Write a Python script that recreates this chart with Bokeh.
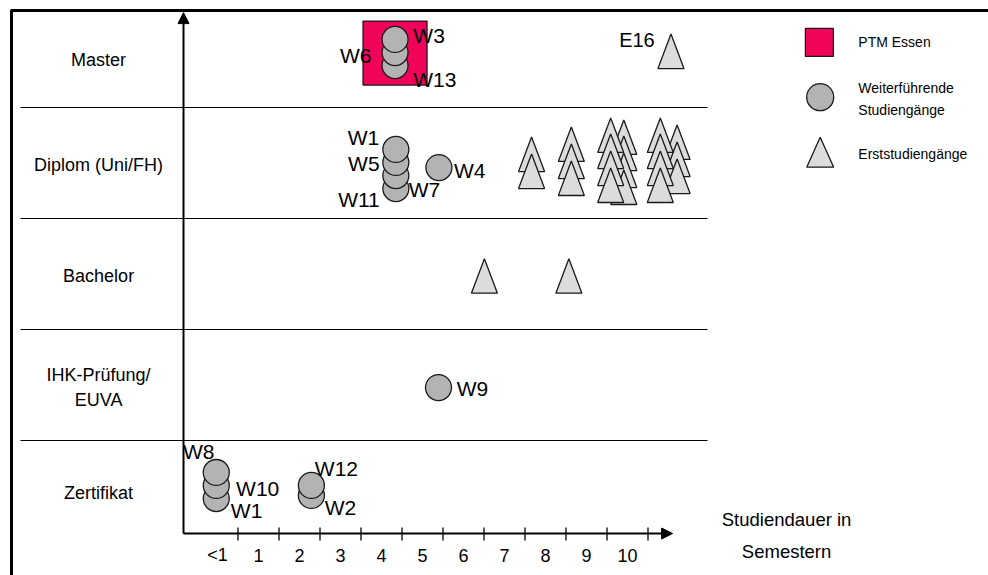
from bokeh.plotting import figure
from bokeh.models import Range1d, Arrow, NormalHead
from bokeh.core.properties import value
from bokeh.embed import file_html
from bokeh.resources import INLINE

# ---------------- data (x: semester index, "<1" = 0 ; y: row index, Zertifikat = 0) ----------------
row_labels = ["Zertifikat", "IHK-Prüfung/\nEUVA", "Bachelor", "Diplom (Uni/FH)", "Master"]
row_label_y = [0.03, 0.98, 1.98, 2.98, 3.93]
row_bounds = [0.5, 1.5, 2.5, 3.5]

tick_labels = ["<1", "1", "2", "3", "4", "5", "6", "7", "8", "9", "10"]
tick_pos = [0, 1, 2, 3, 4, 5, 6, 7, 8, 9, 10]

# PTM Essen
ptm_x = [4.33]
ptm_y = [3.99]

# Weiterführende Studiengänge (circles), drawn bottom-up within a stack
circ_x = [4.33, 4.33, 4.33,
          4.35, 4.35, 4.35, 4.35,
          5.40,
          5.39,
          -0.03, -0.03, -0.03,
          2.29, 2.29]
circ_y = [3.878, 3.995, 4.113,
          2.770, 2.887, 3.005, 3.122,
          2.959,
          0.977,
          -0.023, 0.095, 0.212,
          0.005, 0.095]

w_text = ["W3", "W6", "W13", "W1", "W5", "W11", "W7", "W4", "W9",
          "W8", "W10", "W1", "W12", "W2"]
w_x = [5.16, 3.37, 5.30, 3.56, 3.57, 3.45, 5.05, 6.15, 6.22,
       -0.46, 0.98, 0.71, 2.90, 3.00]
w_y = [4.149, 3.968, 3.748, 3.234, 2.995, 2.667, 2.757, 2.932, 0.968,
       0.401, 0.072, -0.131, 0.252, -0.108]

# Erststudiengänge (triangles): base-centre positions, drawn top-down within a column
tri_x = [7.66, 7.66,
         8.63, 8.63, 8.63,
         9.91, 9.91, 9.91, 9.91,
         9.59, 9.59, 9.59, 9.59,
         11.21, 11.21, 11.21,
         10.80, 10.80, 10.80, 10.80,
         6.51, 8.57,
         11.06]
tri_y = [2.923, 2.770,
         3.014, 2.860, 2.707,
         3.077, 2.932, 2.779, 2.626,
         3.095, 2.950, 2.797, 2.644,
         3.032, 2.878, 2.725,
         3.095, 2.950, 2.797, 2.644,
         1.827, 1.827,
         3.851]
e_text = ["E16"]
e_x = [10.23]
e_y = [4.104]

# legend
leg_text = ["PTM Essen", "Weiterführende\nStudiengänge", "Erststudiengänge"]
leg_text_x = [15.63, 15.63, 15.63]
leg_text_y = [4.088, 3.577, 3.083]
leg_sq = (14.68, 4.086)
leg_circ = (14.70, 3.593)
leg_tri = (14.70, 2.962)

axis_title = ["Studiendauer in\nSemestern"]
axis_title_x = [13.88]
axis_title_y = [-0.354]

# ---------------- layout / style ----------------
W, H = 988, 575
PXX, X0 = 41.0, 217.0
PXY, Y0 = 111.0, 495.5


def dx(px):
    return px / PXX


def dy(px):
    return px / PXY


x_range = Range1d(-X0 / PXX, (W - X0) / PXX)
y_range = Range1d((Y0 - H) / PXY, Y0 / PXY)

FONT = value("Liberation Sans, Arial, sans-serif")
OUT = "#1a1a1a"

p = figure(width=W, height=H, x_range=x_range, y_range=y_range,
           x_axis_type=None, y_axis_type=None,
           output_backend="svg", toolbar_location=None,
           min_border=0, outline_line_color=None,
           background_fill_color="white", border_fill_color="white")

xl, xr = x_range.start, x_range.end
yb, yt = y_range.start, y_range.end

# outer frame (top and left only)
top_y = yt - dy(10)
left_x = xl + dx(11)
p.segment(x0=[xl + dx(10)], y0=[top_y], x1=[xr], y1=[top_y], line_color="black", line_width=3)
p.segment(x0=[left_x], y0=[top_y], x1=[left_x], y1=[yb], line_color="black", line_width=3)

# row separators
p.segment(x0=[xl + dx(20)] * 4, y0=row_bounds, x1=[xl + dx(707)] * 4, y1=row_bounds,
          line_color="black", line_width=1.2)

# axes
ax_y = -0.338
ax_x = -0.829
p.add_layout(Arrow(end=NormalHead(size=11, fill_color="black", line_color="black", line_width=1),
                   x_start=ax_x, y_start=ax_y, x_end=11.10, y_end=ax_y,
                   line_color="black", line_width=2))
p.add_layout(Arrow(end=NormalHead(size=11, fill_color="black", line_color="black", line_width=1),
                   x_start=ax_x, y_start=ax_y, x_end=ax_x, y_end=4.355,
                   line_color="black", line_width=2))
tick_b = [t + 0.5 for t in tick_pos]
p.segment(x0=tick_b, y0=[ax_y + dy(6)] * len(tick_b), x1=tick_b, y1=[ax_y - dy(7)] * len(tick_b),
          line_color="black", line_width=1.3)
p.text(x=tick_pos, y=[-0.536] * len(tick_pos), text=tick_labels, text_font=FONT,
       text_font_size="18px", text_align="center", text_baseline="middle", text_color="black")

# row labels
p.text(x=[-2.90] * len(row_labels), y=row_label_y, text=row_labels, text_font=FONT,
       text_font_size="18px", text_align="center", text_baseline="middle", text_color="black",
       text_line_height=1.25)

# PTM square
p.scatter(x=ptm_x, y=ptm_y, marker="square", size=64, fill_color="#f0045a",
          line_color=OUT, line_width=1.3)

# circles
p.scatter(x=circ_x, y=circ_y, marker="circle", size=26, fill_color="#b3b3b3",
          line_color=OUT, line_width=1.3)

# triangles
hw, th = dx(13), dy(34.5)
tri_xs = [[x - hw, x + hw, x] for x in tri_x]
tri_ys = [[y, y, y + th] for y in tri_y]
p.patches(xs=tri_xs, ys=tri_ys, fill_color="#dcdcdc", line_color=OUT, line_width=1.3)

# labels
p.text(x=w_x, y=w_y, text=w_text, text_font=FONT, text_font_size="21px",
       text_align="center", text_baseline="middle", text_color="black")
p.text(x=e_x, y=e_y, text=e_text, text_font=FONT, text_font_size="20px",
       text_align="center", text_baseline="middle", text_color="black")

# legend
p.scatter(x=[leg_sq[0]], y=[leg_sq[1]], marker="square", size=28, fill_color="#f0045a",
          line_color=OUT, line_width=1.3)
p.scatter(x=[leg_circ[0]], y=[leg_circ[1]], marker="circle", size=27, fill_color="#b3b3b3",
          line_color=OUT, line_width=1.3)
lhw, lth = dx(13.5), dy(30)
p.patches(xs=[[leg_tri[0] - lhw, leg_tri[0] + lhw, leg_tri[0]]],
          ys=[[leg_tri[1], leg_tri[1], leg_tri[1] + lth]],
          fill_color="#dcdcdc", line_color=OUT, line_width=1.3)
p.text(x=leg_text_x, y=leg_text_y, text=leg_text, text_font=FONT, text_font_size="14px",
       text_align="left", text_baseline="middle", text_color="black", text_line_height=1.35)

# axis title
p.text(x=axis_title_x, y=axis_title_y, text=axis_title, text_font=FONT, text_font_size="18.5px",
       text_align="center", text_baseline="middle", text_color="black", text_line_height=1.5)

open("out.html", "w").write(file_html(p, INLINE))
